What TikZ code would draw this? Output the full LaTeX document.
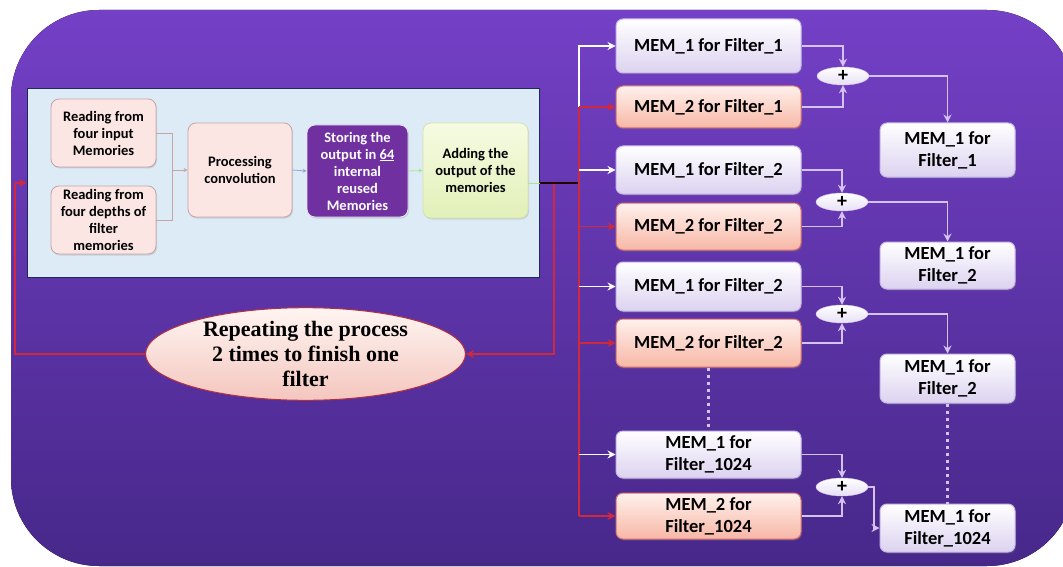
\documentclass[tikz,border=0pt]{standalone}
\usepackage{fontspec}
\setmainfont{Carlito}
\newfontfamily\serifbold{Liberation Serif}
\usetikzlibrary{arrows.meta,shapes.geometric,calc,shadows}

\definecolor{bgtop}{HTML}{7440C6}
\definecolor{bgbot}{HTML}{47288A}
\definecolor{panelfill}{HTML}{DDEBF7}
\definecolor{panelline}{HTML}{1F2A5C}
\definecolor{pinkfill}{HTML}{FBE6E4}
\definecolor{pinkline}{HTML}{C9A2A6}
\definecolor{storefill}{HTML}{7030A0}
\definecolor{addtop}{HTML}{F6FBE2}
\definecolor{addbot}{HTML}{E2F0B8}
\definecolor{addline}{HTML}{D2E2B0}
\definecolor{memAbot}{HTML}{DCD2F0}
\definecolor{memAline}{HTML}{C8B6EA}
\definecolor{memBtop}{HTML}{FFF1EC}
\definecolor{memBbot}{HTML}{F7B7A6}
\definecolor{memBline}{HTML}{D8706E}
\definecolor{loopred}{HTML}{D0283C}
\definecolor{lav}{HTML}{D6C2F2}
\definecolor{ellline}{HTML}{B03040}
\definecolor{elltop}{HTML}{FFF5F2}
\definecolor{ellbot}{HTML}{F4C6BE}

\tikzset{
  tip/.style={-{Stealth[length=8pt,width=8pt]}},
  smalltip/.style={-{Stealth[length=4pt,width=4pt]}},
  pbox/.style={draw=pinkline, fill=pinkfill, rounded corners=8pt, align=center,
    line width=0.8pt, inner sep=2pt,
    font=\fontsize{14.5}{17}\selectfont\bfseries,
    drop shadow={opacity=0.25, shadow xshift=1pt, shadow yshift=-1.5pt}},
  storebox/.style={pbox, draw=white!85!storefill, fill=storefill, text=white},
  addbox/.style={pbox, draw=addline, top color=addtop, bottom color=addbot},
  memA/.style={draw=memAline, top color=white, bottom color=memAbot,
    rounded corners=7pt, align=center, line width=1pt, inner sep=2pt,
    font=\fontsize{18.5}{22}\selectfont\bfseries,
    drop shadow={opacity=0.3, shadow xshift=1pt, shadow yshift=-1.5pt}},
  memB/.style={memA, draw=memBline, top color=memBtop, bottom color=memBbot},
  plusnode/.style={ellipse, draw=lav, top color=white, bottom color=memAbot!70!white,
    minimum width=52pt, minimum height=18pt, inner sep=0pt,
    font=\fontsize{20}{20}\selectfont\bfseries},
  pline/.style={draw=pinkline, line width=0.8pt},
  bline/.style={draw=blue!25!panelfill!70!gray, line width=0.8pt},
  gline/.style={draw=addline!80!green, line width=0.8pt},
  redl/.style={draw=loopred, line width=1.6pt},
  wline/.style={draw=white, line width=1.8pt},
  lline/.style={draw=lav, line width=1.5pt},
  dotl/.style={draw=lav, line width=3.2pt, dash pattern=on 3pt off 4pt},
}

\begin{document}
\begin{tikzpicture}[x=1pt,y=-1pt]
  \useasboundingbox (0,0) rectangle (1063,567);
  \clip (0,0) rectangle (1063,567);

  % backdrop
  \fill[top color=bgtop, bottom color=bgbot, rounded corners=88pt]
    (11,10) rectangle (1075,566);

  % processing panel
  \node[draw=panelline, fill=panelfill, line width=1.6pt, minimum width=512pt,
        minimum height=189pt, inner sep=0pt] (panel) at (283.5,183) {};

  \node[pbox, minimum width=105pt, minimum height=68pt] (rd1) at (103.5,133)
    {Reading from\\four input\\Memories};
  \node[pbox, minimum width=105pt, minimum height=68pt] (rd2) at (103.5,220)
    {Reading from\\four depths of\\filter\\memories};
  \node[pbox, minimum width=104pt, minimum height=94pt] (proc) at (240,170)
    {Processing\\convolution};
  \node[storebox, minimum width=101pt, minimum height=92pt] (stor) at (357.5,171)
    {Storing the\\output in \underline{64}\\internal\\reused\\Memories};
  \node[addbox, minimum width=105pt, minimum height=95pt] (add) at (475.5,170.5)
    {Adding the\\output of the\\memories};

  \coordinate (jn) at (172,170);
  \draw[pline] (rd1.east) -| (jn);
  \draw[pline] (rd2.east) -| (jn);
  \draw[pline,smalltip] (jn) -- (proc.west);
  \draw[bline,smalltip] (proc.east) -- (stor.west);
  \draw[gline,smalltip] (stor.east) -- (add.west);

  % loop ellipse
  \node[ellipse, draw=ellline, line width=1pt, top color=elltop, bottom color=ellbot,
        minimum width=320pt, minimum height=92pt, inner sep=0pt, align=center,
        font=\serifbold\fontsize{22}{25}\selectfont\bfseries] (rep) at (305.5,354)
    {Repeating the process\\2 times to finish one\\filter};

  % memory banks
  \node[memA, minimum width=185pt, minimum height=54pt] (m11) at (708.5,46)  {MEM\_1 for Filter\_1};
  \node[memB, minimum width=185pt, minimum height=42pt] (m21) at (708.5,107) {MEM\_2 for Filter\_1};
  \node[memA, minimum width=185pt, minimum height=48pt] (m12) at (708.5,170) {MEM\_1 for Filter\_2};
  \node[memB, minimum width=185pt, minimum height=47pt] (m22) at (708.5,226.5) {MEM\_2 for Filter\_2};
  \node[memA, minimum width=185pt, minimum height=49pt] (m13) at (708.5,286.5) {MEM\_1 for Filter\_2};
  \node[memB, minimum width=185pt, minimum height=48pt] (m23) at (708.5,343) {MEM\_2 for Filter\_2};
  \node[memA, minimum width=185pt, minimum height=47pt] (m1k) at (708.5,454.5) {MEM\_1 for\\Filter\_1024};
  \node[memB, minimum width=185pt, minimum height=46pt] (m2k) at (708.5,516) {MEM\_2 for\\Filter\_1024};

  \node[plusnode] (p1) at (843,76)  {+};
  \node[plusnode] (p2) at (842,202) {+};
  \node[plusnode] (p3) at (842,314) {+};
  \node[plusnode] (p4) at (842,487) {+};

  \node[memA, minimum width=135pt, minimum height=54pt] (r1) at (947.5,150)   {MEM\_1 for\\Filter\_1};
  \node[memA, minimum width=135pt, minimum height=47pt] (r2) at (947.5,265.5) {MEM\_1 for\\Filter\_2};
  \node[memA, minimum width=135pt, minimum height=49pt] (r3) at (947.5,378.5) {MEM\_1 for\\Filter\_2};
  \node[memA, minimum width=135pt, minimum height=48pt] (rk) at (947.5,528)   {MEM\_1 for\\Filter\_1024};

  % output of the panel and the repeat loop
  \coordinate (pe)  at (540,183);
  \coordinate (lp)  at (554,183);
  \coordinate (bus) at (579,183);
  \coordinate (lx)  at (15,183);
  \draw[gline] (add.east |- pe) -- (pe);
  \draw[redl,tip] (lp) |- (rep.east);
  \draw[redl] (rep.west) -| (lx);
  \draw[redl,tip] (lx) -- (lx -| panel.west);
  \draw[line width=2.6pt, draw=black!85!red] (pe) -- (bus);

  % distribution bus
  \draw[wline,tip] (bus) |- (m11.west);
  \draw[redl] (bus |- m21.west) -- (bus |- m2k.west);
  \foreach \n in {m21,m22,m23,m2k}
    \draw[redl,tip] (bus |- \n.west) -- (\n.west);
  \foreach \n in {m12,m13,m1k}
    \draw[wline,tip] (bus |- \n.west) -- (\n.west);

  % adders
  \draw[lline,tip] (m11.east) -| (p1.north);
  \draw[lline,tip] (m21.east) -| (p1.south);
  \draw[lline,tip] (p1.east) -| (r1.north);
  \draw[lline,tip] (m12.east) -| (p2.north);
  \draw[lline,tip] (m22.east) -| (p2.south);
  \draw[lline,tip] (p2.east) -| (r2.north);
  \draw[lline,tip] (m13.east) -| (p3.north);
  \draw[lline,tip] (m23.east) -| (p3.south);
  \draw[lline,tip] (p3.east) -| (r3.north);
  \draw[lline,tip] (m1k.east) -| (p4.north);
  \draw[lline,tip] (m2k.east) -| (p4.south);
  \draw[lline,tip] (p4.east) -- ++(6,0) |- (rk.west);

  % elided filters
  \draw[dotl] (m23.south) -- (m1k.north);
  \draw[dotl] (r3.south) -- (rk.north);
\end{tikzpicture}
\end{document}
